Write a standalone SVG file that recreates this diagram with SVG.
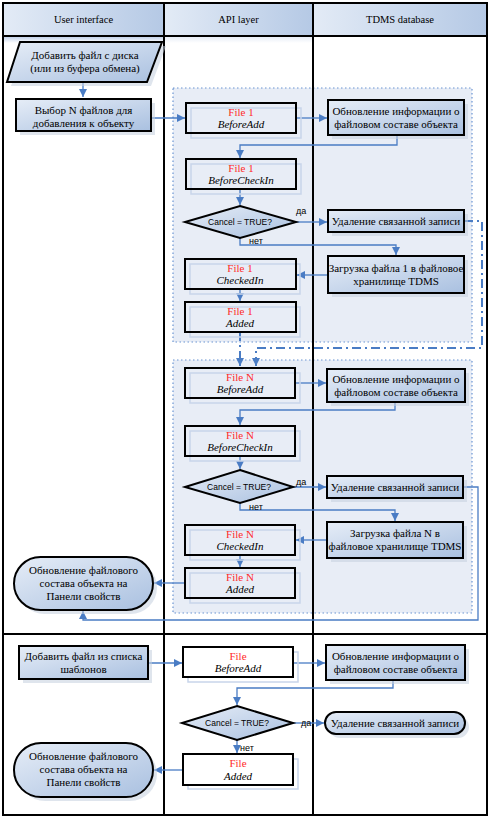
<svg xmlns="http://www.w3.org/2000/svg" width="492" height="818" viewBox="0 0 492 818">
<defs>
<linearGradient id="gb" x1="0" y1="0" x2="1" y2="1">
<stop offset="0" stop-color="#e6edf7"/>
<stop offset="1" stop-color="#a9c0e0"/>
</linearGradient>
<linearGradient id="gh" x1="0" y1="0" x2="1" y2="0">
<stop offset="0" stop-color="#e3ebf6"/>
<stop offset="1" stop-color="#b5c9e5"/>
</linearGradient>
<linearGradient id="gs" x1="0" y1="0" x2="0" y2="1">
<stop offset="0" stop-color="#c3d2ea"/>
<stop offset="1" stop-color="#ffffff"/>
</linearGradient>
<marker id="ar" viewBox="0 0 10 10" refX="10" refY="5" markerUnits="userSpaceOnUse" markerWidth="8" markerHeight="8" orient="auto">
<path d="M0,0 L10,5 L0,10 z" fill="#4a7cc4"/>
</marker>
</defs>
<style>
.box{fill:url(#gb);stroke:#000;stroke-width:2}
.fbox{fill:none;stroke:#000;stroke-width:2}
.wbox{fill:#fff;stroke:#000;stroke-width:2}
.sh{fill:#c4cfdf;opacity:0.55}
.gh{fill:none;stroke:#c8d5ea;stroke-width:1.5}
.con{fill:none;stroke:#4a7cc4;stroke-width:1.3}
.dd{fill:none;stroke:#4a7cc4;stroke-width:2;stroke-dasharray:9 4 2 4}
.reg{fill:#e8edf6;stroke:#6b95d2;stroke-width:1.2;stroke-dasharray:1.5 2.5}
.lane{fill:none;stroke:#000;stroke-width:2}
.ru{font-family:"Liberation Serif",serif;font-size:11px;fill:#000;text-anchor:middle}
.hd{font-family:"Liberation Serif",serif;font-size:10.5px;fill:#000;text-anchor:middle}
.fr{font-family:"Liberation Serif",serif;font-size:11px;fill:#ff2a2a;text-anchor:middle}
.fi{font-family:"Liberation Serif",serif;font-size:11px;font-style:italic;fill:#000;text-anchor:middle}
.sa{font-family:"Liberation Sans",sans-serif;font-size:8.5px;fill:#000;text-anchor:middle}
.lb{font-family:"Liberation Sans",sans-serif;font-size:9px;fill:#000}
</style>

<rect x="0" y="0" width="492" height="818" fill="#fff"/>

<g id="regions">
<rect class="reg" x="173" y="88" width="299" height="254"/>
<rect class="reg" x="173" y="360" width="299" height="253"/>
</g>

<g id="swimlanes">
<rect x="4" y="4" width="160" height="32" fill="url(#gh)"/>
<rect x="164" y="4" width="149" height="32" fill="url(#gh)"/>
<rect x="313" y="4" width="173" height="32" fill="url(#gh)"/>
<rect x="4" y="37" width="160" height="6" fill="url(#gs)"/>
<rect x="165" y="37" width="148" height="6" fill="url(#gs)" opacity="0.4"/>
<rect class="lane" x="3" y="3" width="484" height="812"/>
<line class="lane" x1="3" y1="36" x2="487" y2="36"/>
<line class="lane" x1="164" y1="3" x2="164" y2="815"/>
<line class="lane" x1="313" y1="3" x2="313" y2="815"/>
<line class="lane" x1="3" y1="634" x2="487" y2="634"/>
<text class="hd" x="83.5" y="23">User interface</text>
<text class="hd" x="238.5" y="23">API layer</text>
<text class="hd" x="400" y="23">TDMS database</text>
</g>

<g id="connectors">
<path class="con" d="M83,82 V97" marker-end="url(#ar)"/>
<path class="con" d="M151,118 H185" marker-end="url(#ar)"/>
<path class="con" d="M296,118 H327" marker-end="url(#ar)"/>
<path class="con" d="M397,135 V145 H240 V158" marker-end="url(#ar)"/>
<path class="con" d="M240,188 V205" marker-end="url(#ar)"/>
<path class="con" d="M296,222 H327" marker-end="url(#ar)"/>
<path class="con" d="M240,238 V245 H396 V255" marker-end="url(#ar)"/>
<path class="con" d="M328,275 H297" marker-end="url(#ar)"/>
<path class="con" d="M240,289 V301" marker-end="url(#ar)"/>
<path class="dd" d="M240,332 V366" marker-end="url(#ar)"/>
<path class="dd" d="M464,221 H482 V348 H256 V366" marker-end="url(#ar)"/>
<path class="con" d="M295,383 H326" marker-end="url(#ar)"/>
<path class="con" d="M395,402 V410 H240 V425" marker-end="url(#ar)"/>
<path class="con" d="M240,456 V469" marker-end="url(#ar)"/>
<path class="con" d="M293,487 H326" marker-end="url(#ar)"/>
<path class="con" d="M240,503 V510 H395 V521" marker-end="url(#ar)"/>
<path class="con" d="M327,540 H296" marker-end="url(#ar)"/>
<path class="con" d="M240,555 V567" marker-end="url(#ar)"/>
<path class="con" d="M185,583 H154" marker-end="url(#ar)"/>
<path class="con" d="M463,487 H478 V620 H83 V611" marker-end="url(#ar)"/>
<path class="con" d="M148,663 H182" marker-end="url(#ar)"/>
<path class="con" d="M293,663 H325" marker-end="url(#ar)"/>
<path class="con" d="M393,680 V688 H237 V705" marker-end="url(#ar)"/>
<path class="con" d="M293,723 H324" marker-end="url(#ar)"/>
<path class="con" d="M237,740 V753" marker-end="url(#ar)"/>
<path class="con" d="M183,770 H154" marker-end="url(#ar)"/>
<text class="lb" x="296" y="214">да</text>
<text class="lb" x="249" y="244">нет</text>
<text class="lb" x="296" y="485">да</text>
<text class="lb" x="249" y="510">нет</text>
<text class="lb" x="301" y="726">да</text>
<text class="lb" x="240" y="751">нет</text>
</g>

<g id="n-add-disk">
<polygon class="sh" points="24,46 166,46 151,86 11,86"/>
<polygon class="box" points="20,42 162,42 147,82 7,82"/>
<text class="ru" x="85" y="59">Добавить файл с диска</text>
<text class="ru" x="85" y="72">(или из буфера обмена)</text>
</g>

<g id="n-select">
<rect class="sh" x="20" y="103" width="135" height="32"/>
<rect class="box" x="16" y="99" width="135" height="32"/>
<text class="ru" x="83.5" y="114">Выбор  N файлов для</text>
<text class="ru" x="83.5" y="127">добавления к объекту</text>
</g>

<g id="n-f1-beforeadd">
<rect class="gh" x="191" y="108" width="110" height="30"/>
<rect class="fbox" x="186" y="103" width="110" height="30"/>
<text class="fr" x="241" y="116">File 1</text>
<text class="fi" x="241" y="128">BeforeAdd</text>
</g>

<g id="n-f1-update">
<rect class="sh" x="332" y="104" width="136" height="35"/>
<rect class="box" x="328" y="100" width="136" height="35"/>
<text class="ru" x="396" y="115">Обновление информации о</text>
<text class="ru" x="396" y="128">файловом составе объекта</text>
</g>

<g id="n-f1-beforecheckin">
<rect class="gh" x="191" y="164" width="110" height="30"/>
<rect class="fbox" x="186" y="159" width="110" height="30"/>
<text class="fr" x="241" y="172">File 1</text>
<text class="fi" x="241" y="184">BeforeCheckIn</text>
</g>

<g id="n-f1-cancel">
<polygon class="box" points="240,206 296,222 240,238 185,222"/>
<text class="sa" x="240" y="225">Cancel = TRUE?</text>
</g>

<g id="n-f1-delete">
<rect class="sh" x="332" y="214" width="136" height="22"/>
<rect class="box" x="328" y="210" width="136" height="22"/>
<text class="ru" x="396" y="225">Удаление связанной записи</text>
</g>

<g id="n-f1-upload">
<rect class="sh" x="332" y="260" width="136" height="37"/>
<rect class="box" x="328" y="256" width="136" height="37"/>
<text class="ru" x="396" y="272">Загрузка файла 1 в файловое</text>
<text class="ru" x="396" y="285">хранилище TDMS</text>
</g>

<g id="n-f1-checkedin">
<rect class="gh" x="190" y="264" width="110" height="30"/>
<rect class="fbox" x="185" y="259" width="111" height="30"/>
<text class="fr" x="240" y="272">File 1</text>
<text class="fi" x="240" y="284">CheckedIn</text>
</g>

<g id="n-f1-added">
<rect class="gh" x="190" y="307" width="110" height="30"/>
<rect class="fbox" x="185" y="302" width="111" height="30"/>
<text class="fr" x="240" y="315">File 1</text>
<text class="fi" x="240" y="327">Added</text>
</g>

<g id="n-fn-beforeadd">
<rect class="gh" x="190" y="373" width="110" height="30"/>
<rect class="fbox" x="185" y="368" width="110" height="30"/>
<text class="fr" x="240" y="381">File N</text>
<text class="fi" x="240" y="393">BeforeAdd</text>
</g>

<g id="n-fn-update">
<rect class="sh" x="331" y="373" width="138" height="33"/>
<rect class="box" x="327" y="369" width="138" height="33"/>
<text class="ru" x="396" y="383">Обновление информации о</text>
<text class="ru" x="396" y="396">файловом составе объекта</text>
</g>

<g id="n-fn-beforecheckin">
<rect class="gh" x="190" y="431" width="110" height="30"/>
<rect class="fbox" x="185" y="426" width="110" height="30"/>
<text class="fr" x="240" y="439">File N</text>
<text class="fi" x="240" y="451">BeforeCheckIn</text>
</g>

<g id="n-fn-cancel">
<polygon class="box" points="240,470 293,487 240,503 185,487"/>
<text class="sa" x="239" y="490">Cancel = TRUE?</text>
</g>

<g id="n-fn-delete">
<rect class="sh" x="331" y="480" width="136" height="22"/>
<rect class="box" x="327" y="476" width="136" height="22"/>
<text class="ru" x="395" y="491">Удаление связанной записи</text>
</g>

<g id="n-fn-upload">
<rect class="sh" x="331" y="526" width="136" height="36"/>
<rect class="box" x="327" y="522" width="136" height="36"/>
<text class="ru" x="395" y="537">Загрузка файла N в</text>
<text class="ru" x="395" y="550">файловое хранилище TDMS</text>
</g>

<g id="n-fn-checkedin">
<rect class="gh" x="190" y="530" width="110" height="30"/>
<rect class="fbox" x="185" y="525" width="110" height="30"/>
<text class="fr" x="240" y="538">File N</text>
<text class="fi" x="240" y="550">CheckedIn</text>
</g>

<g id="n-fn-added">
<rect class="gh" x="190" y="573" width="110" height="30"/>
<rect class="fbox" x="185" y="568" width="110" height="30"/>
<text class="fr" x="240" y="581">File N</text>
<text class="fi" x="240" y="593">Added</text>
</g>

<g id="n-fn-panel">
<rect class="sh" x="18" y="561" width="139" height="53" rx="26.5"/>
<rect class="box" x="14" y="557" width="139" height="53" rx="26.5"/>
<text class="ru" x="83.5" y="574">Обновление файлового</text>
<text class="ru" x="83.5" y="587">состава объекта на</text>
<text class="ru" x="83.5" y="600">Панели свойств</text>
</g>

<g id="n-t-add">
<rect class="sh" x="23" y="650" width="129" height="33"/>
<rect class="box" x="19" y="646" width="129" height="33"/>
<text class="ru" x="83.5" y="660">Добавить файл из списка</text>
<text class="ru" x="83.5" y="673">шаблонов</text>
</g>

<g id="n-t-beforeadd">
<rect class="gh" x="188" y="652" width="110" height="30"/>
<rect class="wbox" x="183" y="647" width="110" height="30"/>
<text class="fr" x="238" y="660">File</text>
<text class="fi" x="238" y="672">BeforeAdd</text>
</g>

<g id="n-t-update">
<rect class="sh" x="330" y="649" width="139" height="35"/>
<rect class="box" x="326" y="645" width="139" height="35"/>
<text class="ru" x="395.5" y="660">Обновление информации о</text>
<text class="ru" x="395.5" y="673">файловом составе объекта</text>
</g>

<g id="n-t-cancel">
<polygon class="box" points="237,706 293,723 237,740 182,723"/>
<text class="sa" x="237" y="726">Cancel = TRUE?</text>
</g>

<g id="n-t-delete">
<rect class="sh" x="329" y="716" width="140" height="22" rx="11"/>
<rect class="box" x="325" y="712" width="140" height="22" rx="11"/>
<text class="ru" x="395" y="727">Удаление связанной записи</text>
</g>

<g id="n-t-added">
<rect class="gh" x="188" y="759" width="110" height="30"/>
<rect class="wbox" x="183" y="754" width="110" height="31"/>
<text class="fr" x="238" y="767">File</text>
<text class="fi" x="238" y="780">Added</text>
</g>

<g id="n-t-panel">
<rect class="sh" x="18" y="747" width="139" height="54" rx="27"/>
<rect class="box" x="14" y="743" width="139" height="54" rx="27"/>
<text class="ru" x="83.5" y="760">Обновление файлового</text>
<text class="ru" x="83.5" y="773">состава объекта на</text>
<text class="ru" x="83.5" y="786">Панели свойств</text>
</g>
</svg>
